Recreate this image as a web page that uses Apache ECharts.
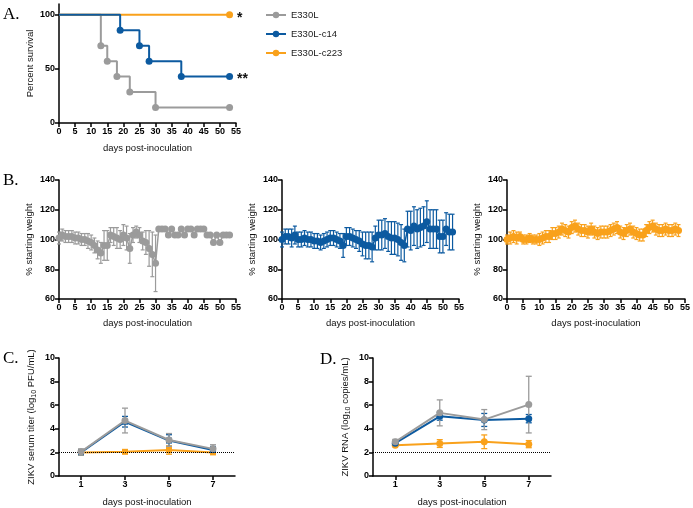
<!DOCTYPE html>
<html><head><meta charset="utf-8">
<script src="https://cdn.jsdelivr.net/npm/echarts@6/dist/echarts.min.js"></script>
<style>html,body{margin:0;padding:0;background:#fff}#c{width:693px;height:508px}</style>
</head><body><div id="c"></div>
<script>
// ---------- names & colours ----------
const groupNames = ['E330L', 'E330L-c14', 'E330L-c223'];
const groupColors = ['#9b9b9b', '#0c5aa0', '#f9a11b'];

// ---------- Panel A: survival ----------
const aGrayDays = [0, 13, 15, 18, 22, 30, 53];
const aGrayPct  = [100, 71.4, 57.1, 42.9, 28.6, 14.3, 14.3];
const aBlueDays = [0, 19, 25, 28, 38, 53];
const aBluePct  = [100, 85.7, 71.4, 57.1, 42.9, 42.9];
const aOrangeDays = [0, 53];
const aOrangePct  = [100, 100];
const aMarks = ['', '**', '*'];   // significance marks (gray, blue, orange)

// ---------- Panel B: % starting weight ----------
const bDays = [0,1,2,3,4,5,6,7,8,9,10,11,12,13,14,15,16,17,18,19,20,21,22,23,24,25,26,27,28,29,30,31,32,33,34,35,36,37,38,39,40,41,42,43,44,45,46,47,48,49,50,51,52,53];
const bGrayMean = [101,103,102,102,102,101,101,100,100,99,98,96,93,91,96,96,103,102,101,100,103,101,94,103,105,103,99,98,94,90,84,
  107,107,107,103,107,103,103,107,103,107,107,103,107,107,107,103,103,98,103,98,103,103,103];
const bGrayErr  = [4,4,4,4,4,4,4,4,4,5,5,5,6,7,10,10,5,6,7,6,7,8,10,5,4,5,6,8,12,15,19,
  0,0,0,0,0,0,0,0,0,0,0,0,0,0,0,0,0,0,0,0,0,0,0];
const bBlueMean = [100,102,102,101,103,100,100,101,100,100,99,99,98,99,100,101,101,100,99,96,102,102,101,100,99,97,96,96,95,101,103,103,104,102,101,101,100,98,96,107,106,109,107,108,109,112,107,107,107,102,102,107,105,105];
const bBlueErr  = [5,5,5,6,6,5,5,5,5,5,5,5,5,5,5,5,5,5,5,8,6,6,6,6,7,8,9,9,10,8,10,10,10,10,11,11,11,12,11,12,13,13,13,13,13,14,13,13,13,11,11,11,12,12];
const bOrangeMean = [100,101,102,101,102,100,100,101,100,100,100,101,102,102,104,104,105,107,106,105,108,109,107,106,106,105,107,105,104,105,105,105,106,107,108,105,104,106,107,105,104,103,103,106,108,109,107,106,106,107,106,106,107,106];
const bOrangeErr  = [3,4,4,4,3,3,3,3,3,3,4,4,4,4,4,4,4,4,4,4,4,4,4,4,4,4,4,4,4,4,4,4,4,4,4,4,4,4,4,4,4,4,4,4,4,4,4,4,4,4,4,4,4,4];

// ---------- Panel C: serum titer ----------
const cdDays = [1, 3, 5, 7];
const cGrayMean = [2.05, 4.7, 3.05, 2.3];
const cGrayErr  = [0.25, 1.05, 0.55, 0.35];
const cBlueMean = [2.0, 4.6, 3.0, 2.2];
const cBlueErr  = [0.1, 0.45, 0.5, 0.3];
const cOrangeMean = [2.0, 2.05, 2.2, 2.0];
const cOrangeErr  = [0.05, 0.1, 0.35, 0.1];

// ---------- Panel D: RNA ----------
const dGrayMean = [2.9, 5.35, 4.78, 6.05];
const dGrayErr  = [0.2, 1.1, 0.85, 2.4];
const dBlueMean = [2.78, 5.06, 4.75, 4.86];
const dBlueErr  = [0.15, 0.33, 0.55, 0.35];
const dOrangeMean = [2.6, 2.75, 2.9, 2.7];
const dOrangeErr  = [0.1, 0.33, 0.58, 0.3];

const limitOfDetection = 2;

// ---------- helpers ----------
const FONT = '"Liberation Sans", Arial, sans-serif';
const SERIF = '"Liberation Serif", "Times New Roman", serif';
const axisLine = {show: true, onZero: false, lineStyle: {color: '#000', width: 1.5}};
const axisTick = {show: true, length: 4, lineStyle: {color: '#000', width: 1.5}};
const axisLabel = {color: '#000', fontSize: 9, fontWeight: 'bold', fontFamily: FONT, margin: 4};
const nameStyle = {color: '#111', fontSize: 9.5, fontFamily: FONT};

function xAxis(gi, min, max, interval, gap, custom) {
  const ax = {type: 'value', gridIndex: gi, min, max, interval,
    axisLine, axisTick: Object.assign({}, axisTick), axisLabel: Object.assign({}, axisLabel),
    splitLine: {show: false},
    name: 'days post-inoculation', nameLocation: 'middle', nameGap: gap, nameTextStyle: nameStyle};
  if (custom) { ax.axisTick.customValues = custom; ax.axisLabel.customValues = custom; }
  return ax;
}
function yAxis(gi, min, max, interval, name, gap, custom, rich) {
  const ax = {type: 'value', gridIndex: gi, min, max, interval,
    axisLine, axisTick: Object.assign({}, axisTick), axisLabel: Object.assign({}, axisLabel),
    splitLine: {show: false},
    name, nameLocation: 'middle', nameGap: gap, nameTextStyle: Object.assign({}, nameStyle)};
  if (custom) { ax.axisTick.customValues = custom; ax.axisLabel.customValues = custom; }
  if (rich) { ax.nameTextStyle.lineHeight = 14; ax.nameTextStyle.rich = rich; }
  return ax;
}
function errSeries(idx, days, mean, err, color, cap, lw) {
  const data = [];
  days.forEach((d, i) => { if (err[i] > 0) data.push([d, mean[i] - err[i], mean[i] + err[i]]); });
  return {type: 'custom', name: 'err', xAxisIndex: idx, yAxisIndex: idx, silent: true,
    itemStyle: {color}, encode: {x: 0, y: [1, 2]}, z: 1, data,
    renderItem: function (params, api) {
      const x = api.value(0);
      const lo = api.coord([x, api.value(1)]);
      const hi = api.coord([x, api.value(2)]);
      const style = {stroke: color, lineWidth: lw, fill: null};
      return {type: 'group', children: [
        {type: 'line', shape: {x1: lo[0], y1: lo[1], x2: hi[0], y2: hi[1]}, style},
        {type: 'line', shape: {x1: lo[0] - cap, y1: lo[1], x2: lo[0] + cap, y2: lo[1]}, style},
        {type: 'line', shape: {x1: hi[0] - cap, y1: hi[1], x2: hi[0] + cap, y2: hi[1]}, style}
      ]};
    }};
}
function lineSeries(idx, name, days, vals, color, sym, size, lw, z) {
  return {type: 'line', name, xAxisIndex: idx, yAxisIndex: idx, data: days.map((d, i) => [d, vals[i]]),
    symbol: sym, symbolSize: size, showAllSymbol: true, itemStyle: {color},
    lineStyle: {color, width: lw}, z: z || 3, silent: true};
}
function survSeries(name, days, vals, color, mark, z) {
  return {type: 'line', name, xAxisIndex: 0, yAxisIndex: 0, step: 'end', z,
    symbol: 'circle', itemStyle: {color}, lineStyle: {color, width: 2}, symbolSize: 7, showAllSymbol: true,
    data: days.map((d, i) => {
      const item = {value: [d, vals[i]], symbol: i === 0 ? 'none' : 'circle'};
      if (i === days.length - 1 && mark) {
        item.label = {show: true, formatter: mark, position: 'right', distance: 4,
          color: '#111', fontSize: 14, fontWeight: 'bold', fontFamily: FONT, offset: [0, 3]};
      }
      return item;
    })};
}

const grids = [
  {left: 59, top: 4, width: 177, height: 119},
  {left: 59, top: 180, width: 177, height: 119},
  {left: 282, top: 180, width: 177, height: 119},
  {left: 507, top: 180, width: 180, height: 119},
  {left: 59, top: 358, width: 176, height: 119},
  {left: 373, top: 358, width: 178, height: 119}
];

const subRich = {s: {fontSize: 7, fontFamily: FONT, color: '#111', verticalAlign: 'bottom', lineHeight: 8}};

const option = {
  animation: false,
  backgroundColor: '#fff',
  grid: grids,
  legend: {left: 260, top: 5, orient: 'vertical', itemWidth: 20, itemHeight: 8, itemGap: 9,
    icon: undefined,
    textStyle: {fontSize: 9.5, color: '#222', fontFamily: FONT}, data: groupNames, selectedMode: false},
  xAxis: [
    xAxis(0, 0, 55, 5, 20),
    xAxis(1, 0, 55, 5, 19),
    xAxis(2, 0, 55, 5, 19),
    xAxis(3, 0, 55, 5, 19),
    xAxis(4, 0, 8, 1, 21, [1, 3, 5, 7]),
    xAxis(5, 0, 8, 1, 21, [1, 3, 5, 7])
  ],
  yAxis: [
    yAxis(0, 0, 110, 10, 'Percent survival', 24, [0, 50, 100]),
    yAxis(1, 60, 140, 20, '% starting weight', 25),
    yAxis(2, 60, 140, 20, '% starting weight', 25),
    yAxis(3, 60, 140, 20, '% starting weight', 25),
    yAxis(4, 0, 10, 2, 'ZIKV serum titer (log{s|10} PFU/mL)', 21, null, subRich),
    yAxis(5, 0, 10, 2, 'ZIKV RNA (log{s|10} copies/mL)', 21, null, subRich)
  ],
  graphic: [
    {type: 'text', left: 3, top: 6, style: {text: 'A.', fontSize: 17, fontFamily: SERIF, fill: '#000'}},
    {type: 'text', left: 3, top: 172, style: {text: 'B.', fontSize: 17, fontFamily: SERIF, fill: '#000'}},
    {type: 'text', left: 3, top: 350, style: {text: 'C.', fontSize: 17, fontFamily: SERIF, fill: '#000'}},
    {type: 'text', left: 320, top: 351, style: {text: 'D.', fontSize: 17, fontFamily: SERIF, fill: '#000'}}
  ],
  series: [
    // A (gray first so its name gives the legend icon)
    survSeries(groupNames[0], aGrayDays, aGrayPct, groupColors[0], aMarks[0], 2),
    survSeries(groupNames[2], aOrangeDays, aOrangePct, groupColors[2], aMarks[2], 3),
    survSeries(groupNames[1], aBlueDays, aBluePct, groupColors[1], aMarks[1], 4),
    // B
    errSeries(1, bDays, bGrayMean, bGrayErr, groupColors[0], 2, 1.2),
    lineSeries(1, groupNames[0], bDays, bGrayMean, groupColors[0], 'circle', 7, 1.5),
    errSeries(2, bDays, bBlueMean, bBlueErr, groupColors[1], 2, 1.2),
    lineSeries(2, groupNames[1], bDays, bBlueMean, groupColors[1], 'circle', 7, 1.5),
    errSeries(3, bDays, bOrangeMean, bOrangeErr, groupColors[2], 2, 1.2),
    lineSeries(3, groupNames[2], bDays, bOrangeMean, groupColors[2], 'circle', 7, 1.5),
    // C
    Object.assign(lineSeries(4, groupNames[2], cdDays, cOrangeMean, groupColors[2], 'rect', 6, 2, 3), {
      markLine: {silent: true, symbol: 'none', label: {show: false}, animation: false,
        lineStyle: {type: 'dotted', color: '#000', width: 1}, data: [{yAxis: limitOfDetection}]}}),
    errSeries(4, cdDays, cOrangeMean, cOrangeErr, groupColors[2], 3, 1.3),
    errSeries(4, cdDays, cBlueMean, cBlueErr, groupColors[1], 3, 1.3),
    lineSeries(4, groupNames[1], cdDays, cBlueMean, groupColors[1], 'rect', 6, 2, 4),
    errSeries(4, cdDays, cGrayMean, cGrayErr, groupColors[0], 3, 1.3),
    lineSeries(4, groupNames[0], cdDays, cGrayMean, groupColors[0], 'circle', 7, 2, 5),
    // D
    Object.assign(lineSeries(5, groupNames[2], cdDays, dOrangeMean, groupColors[2], 'circle', 7, 2, 3), {
      markLine: {silent: true, symbol: 'none', label: {show: false}, animation: false,
        lineStyle: {type: 'dotted', color: '#000', width: 1}, data: [{yAxis: limitOfDetection}]}}),
    errSeries(5, cdDays, dOrangeMean, dOrangeErr, groupColors[2], 3, 1.3),
    errSeries(5, cdDays, dBlueMean, dBlueErr, groupColors[1], 3, 1.3),
    lineSeries(5, groupNames[1], cdDays, dBlueMean, groupColors[1], 'circle', 7, 2, 4),
    errSeries(5, cdDays, dGrayMean, dGrayErr, groupColors[0], 3, 1.3),
    lineSeries(5, groupNames[0], cdDays, dGrayMean, groupColors[0], 'circle', 7, 2, 5)
  ]
};

const chart = echarts.init(document.getElementById('c'), null, {renderer: 'canvas'});
chart.setOption(option);
</script>
</body></html>
